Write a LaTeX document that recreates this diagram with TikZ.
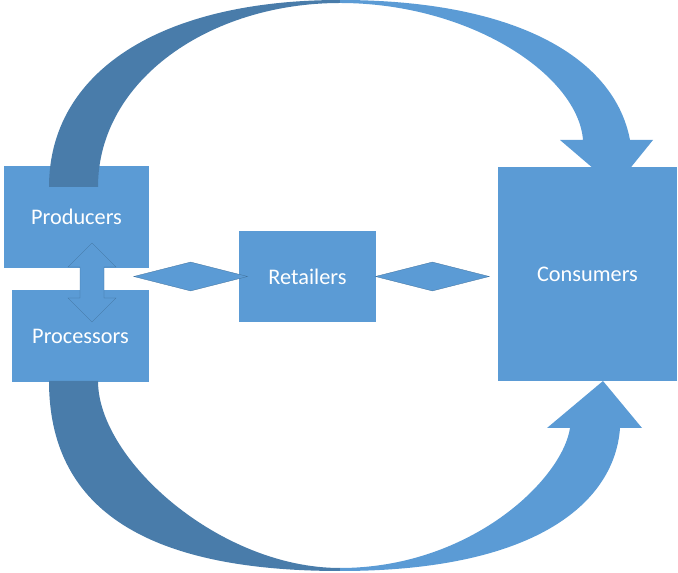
\documentclass[tikz,border=0pt]{standalone}
\usepackage{fontspec}
\setmainfont{Carlito}
\usetikzlibrary{positioning,shapes.geometric}
\definecolor{boxcol}{HTML}{5B9BD5}
\definecolor{edgecol}{HTML}{41719C}
\definecolor{backcol}{HTML}{497CAA}

\begin{document}
\begin{tikzpicture}[
  x=1pt, y=1pt,
  font=\fontsize{22.3}{26}\selectfont,
  box/.style={fill=boxcol, text=white, inner sep=0pt, align=center},
  link/.style={diamond, fill=boxcol, draw=edgecol, line width=0.3pt,
               inner sep=0pt, minimum width=114pt, minimum height=29pt},
  twoway/.style={fill=boxcol, draw=edgecol, line width=0.3pt},
  arcfront/.style={fill=boxcol},
  arcback/.style={fill=backcol},
]
\useasboundingbox (0,0) rectangle (678,573);

% ---------------------------------------------------------------- boxes
\node[box, minimum width=145pt, minimum height=102pt] (producers)
  at (76.5,356) {Producers};
\node[box, minimum width=137pt, minimum height=92pt,
      below left=22pt and 0pt of producers.south east] (processors) {Processors};
\node[box, minimum width=137pt, minimum height=91pt] (retailers)
  at (307.5,296.5) {Retailers};
\node[box, minimum width=179pt, minimum height=214pt] (consumers)
  at (587.5,299) {Consumers};

% ---------------------------------------------------------------- links
\node[link, anchor=east] (prodlink) at ([xshift=9pt]retailers.west) {};
\node[link, anchor=west] (conslink) at ([xshift=-1pt]retailers.east) {};

\draw[twoway] (92,330) -- (116,306) -- (104,306) -- (104,275) -- (116,275)
  -- (92,251) -- (68,275) -- (80,275) -- (80,306) -- (68,306) -- cycle;

% ---------------------------------------------------------- top arrow
\fill[arcback] (49,386) .. controls (49,501) and (160,573) .. (340,573)
  -- (340,570) .. controls (210,570) and (98,493) .. (98,386) -- cycle;
\fill[arcfront] (340,573) .. controls (520,573) and (615,513) .. (630,433)
  -- (653,433) -- (615,386) -- (560,433) -- (583,433)
  .. controls (578,498) and (470,570) .. (340,570) -- cycle;

% ------------------------------------------------------- bottom arrow
\fill[arcback] (49,192) .. controls (49,68) and (140,2) .. (340,2)
  -- (340,5) .. controls (220,5) and (98,113) .. (98,192) -- cycle;
\fill[arcfront] (340,2) .. controls (540,2) and (615,73) .. (620,145)
  -- (642,145) -- (603,192) -- (547,145) -- (570,145)
  .. controls (562,93) and (470,5) .. (340,5) -- cycle;

\end{tikzpicture}
\end{document}
